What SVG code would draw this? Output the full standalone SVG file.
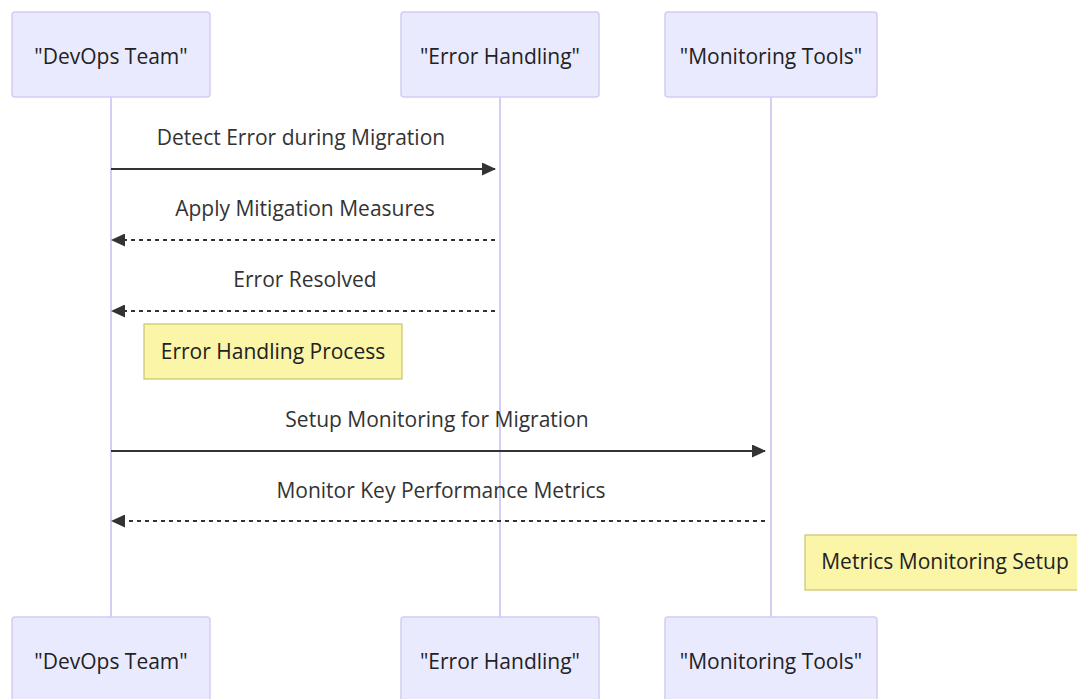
<svg xmlns="http://www.w3.org/2000/svg" width="1077" height="699" viewBox="0 0 1077 699">
  <style>
    .actor rect { fill: #eaeaff; stroke: #d4ccf5; stroke-width: 1.5; }
    .actor text { font-family: "Open Sans", "Liberation Sans", sans-serif; font-size: 21px; fill: #222; text-anchor: middle; dominant-baseline: central; }
    .life { stroke: #d6cdf7; stroke-width: 2; }
    .msg { stroke: #333; stroke-width: 2; fill: none; }
    .dash { stroke-dasharray: 4 4; }
    .label { font-family: "Open Sans", "Liberation Sans", sans-serif; font-size: 21px; fill: #333; text-anchor: middle; }
    .note rect { fill: #fbf5a8; stroke: #c9c46a; stroke-width: 1.2; }
    .note text { font-family: "Open Sans", "Liberation Sans", sans-serif; font-size: 21px; fill: #222; text-anchor: middle; dominant-baseline: central; }
  </style>
  <defs>
    <marker id="head" viewBox="0 0 14 13" refX="13" refY="6.5" markerWidth="14" markerHeight="13" markerUnits="userSpaceOnUse" orient="auto">
      <path d="M0,0 L14,6.5 L0,13 Z" fill="#333"/>
    </marker>
  </defs>

  <!-- lifelines -->
  <g id="lifelines">
    <line class="life" x1="111" y1="97" x2="111" y2="617"/>
    <line class="life" x1="500" y1="97" x2="500" y2="617"/>
    <line class="life" x1="771" y1="97" x2="771" y2="617"/>
  </g>

  <!-- participants, top -->
  <g id="devops-top" class="actor"><rect x="12" y="12" width="198" height="85" rx="3"/><text x="111" y="56">"DevOps Team"</text></g>
  <g id="error-top" class="actor"><rect x="401" y="12" width="198" height="85" rx="3"/><text x="500" y="56">"Error Handling"</text></g>
  <g id="monitor-top" class="actor"><rect x="665" y="12" width="212" height="85" rx="3"/><text x="771" y="56">"Monitoring Tools"</text></g>

  <!-- participants, bottom -->
  <g id="devops-bottom" class="actor"><rect x="12" y="617" width="198" height="85" rx="3"/><text x="111" y="661">"DevOps Team"</text></g>
  <g id="error-bottom" class="actor"><rect x="401" y="617" width="198" height="85" rx="3"/><text x="500" y="661">"Error Handling"</text></g>
  <g id="monitor-bottom" class="actor"><rect x="665" y="617" width="212" height="85" rx="3"/><text x="771" y="661">"Monitoring Tools"</text></g>

  <!-- messages -->
  <g id="connectors">
    <text class="label" x="301" y="145">Detect Error during Migration</text>
    <line class="msg" x1="111" y1="169" x2="495" y2="169" marker-end="url(#head)"/>

    <text class="label" x="305" y="216">Apply Mitigation Measures</text>
    <line class="msg dash" x1="495" y1="240" x2="112" y2="240" marker-end="url(#head)"/>

    <text class="label" x="305" y="287">Error Resolved</text>
    <line class="msg dash" x1="495" y1="311" x2="112" y2="311" marker-end="url(#head)"/>

    <text class="label" x="437" y="427">Setup Monitoring for Migration</text>
    <line class="msg" x1="111" y1="451" x2="765" y2="451" marker-end="url(#head)"/>

    <text class="label" x="441" y="498">Monitor Key Performance Metrics</text>
    <line class="msg dash" x1="765" y1="521" x2="112" y2="521" marker-end="url(#head)"/>
  </g>

  <!-- notes -->
  <g id="note-error" class="note"><rect x="144" y="324" width="258" height="55"/><text x="273" y="351">Error Handling Process</text></g>
  <g id="note-metrics" class="note"><rect x="805" y="535" width="280" height="55"/><text x="945" y="561">Metrics Monitoring Setup</text></g>
</svg>
